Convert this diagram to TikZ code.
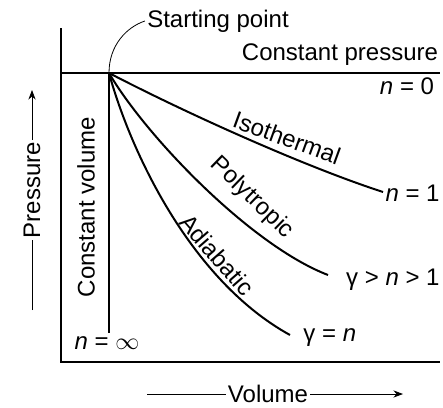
\documentclass[tikz,border=0pt]{standalone}
\usepackage{fontspec}
\setmainfont{Liberation Sans}
\usetikzlibrary{arrows.meta,calc}

\begin{document}
\begin{tikzpicture}[x=0.5pt, y=-0.5pt, >=Stealth,
  lbl/.style={font=\fontsize{12}{14}\selectfont, inner sep=1pt},
  proc/.style={line width=1pt}]
  \useasboundingbox (0,0) rectangle (443,407);

  % Axes
  \coordinate (top) at (61,28);
  \coordinate (O) at (61,362);
  \coordinate (right) at (440,362);
  \draw[line width=1.2pt] (top) -- (O) -- (right);

  % Starting point, constant pressure and constant volume lines
  \coordinate (S) at (109,73);
  \coordinate (P0) at (61,73);
  \coordinate (P1) at (440,73);
  \coordinate (V1) at (109,333);
  \draw[proc] (P0) -- (P1);
  \draw[proc] (S) -- (V1);
  \node[lbl] (start) at (218,21) {Starting point};
  \draw[thin] (start.west) .. controls +(-18,6) and +(0,-28) .. (S);
  \node[lbl] (cp) at (340,55) {Constant pressure};
  \node[lbl] (n0) at (407,86) {\textit{n} = 0};
  \node[lbl, rotate=90] (cv) at (86,207) {Constant volume};
  \node[lbl] (ninf) at (107,343) {\textit{n} = $\infty$};

  % Expansion curves
  \coordinate (I) at (383,192);
  \coordinate (Q) at (328,275);
  \coordinate (A) at (290,335);
  \draw[proc] (S) .. controls (180,110) and (300,165) .. (I);
  \draw[proc] (S) .. controls (145,135) and (250,245) .. (Q);
  \draw[proc] (S) .. controls (130,150) and (190,280) .. (A);
  \node[lbl, rotate=-20] (iso) at (287,138) {Isothermal};
  \node[lbl, rotate=-44] (poly) at (252,198) {Polytropic};
  \node[lbl, rotate=-49] (adia) at (217,255) {Adiabatic};
  \node[lbl, anchor=east] (niso) at (442,193) {\textit{n} = 1};
  \node[lbl, anchor=east] (npoly) at (442,280) {γ > \textit{n} > 1};
  \node[lbl, anchor=west] (nadia) at (301,338) {γ = \textit{n}};

  % Axis labels
  \node[lbl, rotate=90] (pressure) at (32,190) {Pressure};
  \coordinate (ptail) at (32,310);
  \coordinate (phead) at (32,90);
  \draw (ptail) -- (pressure.west);
  \draw[->] (pressure.east) -- (phead);
  \node[lbl] (volume) at (268,394) {Volume};
  \coordinate (vtail) at (147,394);
  \coordinate (vhead) at (403,394);
  \draw (vtail) -- (volume.west);
  \draw[->] (volume.east) -- (vhead);
\end{tikzpicture}
\end{document}
